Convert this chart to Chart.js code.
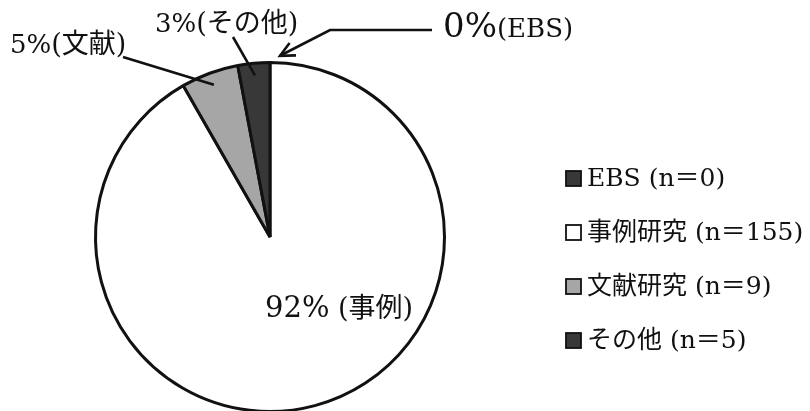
<!DOCTYPE html>
<html>
<head>
<meta charset="utf-8">
<style>
  html, body { margin: 0; padding: 0; background: #fff; overflow: hidden; }
  #wrap { width: 810px; height: 430px; }
</style>
</head>
<body>
<div id="wrap">
  <canvas id="myChart" width="810" height="430"></canvas>
</div>

<script src="https://cdn.jsdelivr.net/npm/chart.js"></script>

<script>
  // data
  const categories = ['EBS', '事例研究', '文献研究', 'その他'];
  const shortNames = ['EBS', '事例', '文献', 'その他'];
  const counts = [0, 155, 9, 5];
  const sliceColors = ['#383838', '#ffffff', '#a6a6a6', '#383838'];

  const SERIF = '"DejaVu Serif", "Noto Sans CJK JP", serif';
  const total = counts.reduce((a, b) => a + b, 0);
  const pct = counts.map(v => Math.round(v / total * 100) + '%');

  // where each outside label sits (layout only)
  const labelSpots = [
    { x: 443, y: 37, big: 34, small: 26, from: [432, 30], knee: [330, 30], arrow: true },
    { x: 265, y: 317, big: 29, small: 27, gap: ' ' },
    { x: 10, y: 53, big: 26, small: 27, from: [123, 57] },
    { x: 155, y: 32, big: 26, small: 27, from: [233, 37] }
  ];

  function polar(arc, ang, r) {
    return [arc.x + Math.cos(ang) * r, arc.y + Math.sin(ang) * r];
  }

  const labelPlugin = {
    id: 'labels',
    afterDatasetsDraw(chart) {
      const c = chart.ctx;
      const arcs = chart.getDatasetMeta(0).data;
      c.save();
      c.fillStyle = '#111';
      c.strokeStyle = '#111';
      c.lineWidth = 2.6;
      c.textBaseline = 'alphabetic';
      c.textAlign = 'left';

      arcs.forEach((arc, i) => {
        const s = labelSpots[i];
        const mid = (arc.startAngle + arc.endAngle) / 2;
        // text
        c.font = s.big + 'px ' + SERIF;
        c.fillText(pct[i], s.x, s.y);
        const w = c.measureText(pct[i]).width;
        c.font = s.small + 'px ' + SERIF;
        c.fillText((s.gap || '') + '(' + shortNames[i] + ')', s.x + w, s.y);

        if (!s.from) return;
        c.beginPath();
        c.moveTo(s.from[0], s.from[1]);
        if (s.arrow) {
          const tip = polar(arc, mid + 0.055, arc.outerRadius + 7);
          c.lineTo(s.knee[0], s.knee[1]);
          c.lineTo(tip[0], tip[1]);
          c.stroke();
          // open arrow head
          const a = Math.atan2(tip[1] - s.knee[1], tip[0] - s.knee[0]);
          const L = 16;
          c.beginPath();
          c.moveTo(tip[0] - Math.cos(a - 0.45) * L, tip[1] - Math.sin(a - 0.45) * L);
          c.lineTo(tip[0], tip[1]);
          c.lineTo(tip[0] - Math.cos(a + 0.45) * L, tip[1] - Math.sin(a + 0.45) * L);
          c.stroke();
        } else {
          const p = polar(arc, mid, arc.outerRadius * 0.93);
          c.lineTo(p[0], p[1]);
          c.stroke();
        }
      });

      // legend
      const lx = 566, rows = [178, 232, 286, 340];
      categories.forEach((name, i) => {
        const y = rows[i];
        c.fillStyle = sliceColors[i];
        c.fillRect(lx, y - 7, 15, 15);
        c.lineWidth = 1.8;
        c.strokeStyle = '#111';
        c.strokeRect(lx, y - 7, 15, 15);
        c.fillStyle = '#111';
        c.font = '25px ' + SERIF;
        c.textBaseline = 'middle';
        c.fillText(name + ' (n＝' + counts[i] + ')', 587, y + 1);
      });
      c.restore();
    }
  };

  const ctx = document.getElementById('myChart');
  const myChart = new Chart(ctx, {
    type: 'pie',
    data: {
      labels: categories,
      datasets: [{
        data: counts,
        backgroundColor: sliceColors,
        borderColor: '#111',
        borderWidth: 3
      }]
    },
    options: {
      responsive: false,
      animation: false,
      layout: { padding: { left: 94, right: 364, top: 61, bottom: 17 } },
      plugins: {
        legend: { display: false },
        tooltip: { enabled: false }
      }
    },
    plugins: [labelPlugin]
  });
</script>
</body>
</html>
